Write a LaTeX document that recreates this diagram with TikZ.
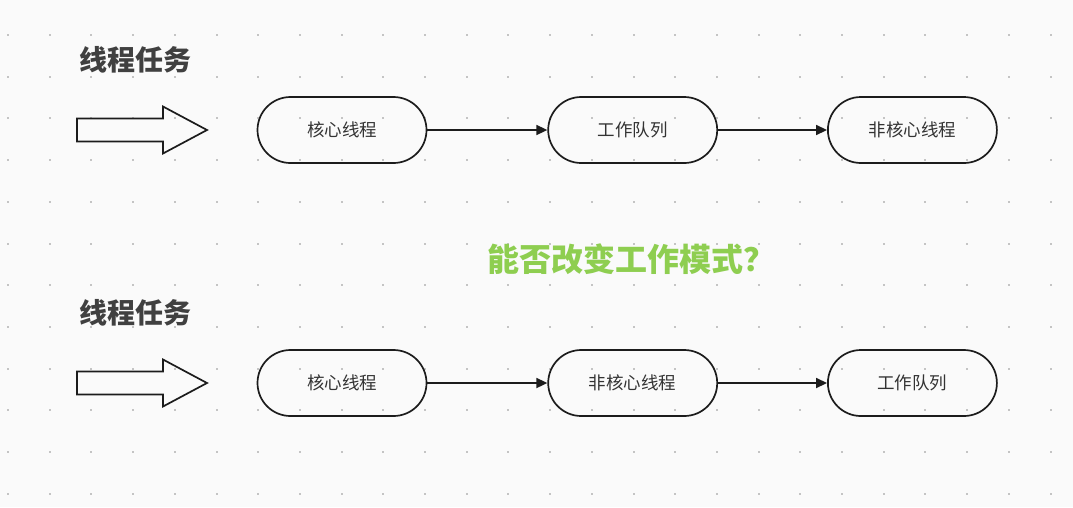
\documentclass[tikz,border=0pt]{standalone}
\usepackage{fontspec}
\setmainfont{Noto Sans CJK SC}
\usetikzlibrary{arrows.meta,positioning}
\definecolor{bg}{RGB}{250,250,250}
\definecolor{dotc}{RGB}{196,196,196}
\definecolor{ink}{RGB}{28,28,28}
\definecolor{txt}{RGB}{51,51,51}
\definecolor{head}{RGB}{64,64,64}
\definecolor{ask}{RGB}{142,206,80}
\newcommand{\bigarrow}[1]{%
  \draw[draw=ink,line width=1.7pt,line join=miter]
    (#1) ++(0,-11.5) -- ++(86,0) -- ++(0,-12) -- ++(44,23.5)
    -- ++(-44,23.5) -- ++(0,-12) -- ++(-86,0) -- cycle;}

\begin{document}
\begin{tikzpicture}[x=1pt,y=-1pt,
  font=\fontsize{17.5}{19}\selectfont,
  box/.style={draw=ink,line width=1.7pt,rounded corners=33pt,
              minimum width=169pt,minimum height=66pt,text=txt},
  title/.style={font=\fontsize{28}{32}\selectfont\bfseries,text=head},
  ar/.style={-{Triangle[length=11pt,width=10pt]},ink,line width=1.7pt}]
% background and dot grid
\fill[bg] (0,0) rectangle (1073,507);
\useasboundingbox (0,0) rectangle (1073,507);
\foreach \i in {0,...,25}
  \foreach \j in {0,...,11}
    \fill[dotc] ({8+41.7*\i-1},{35+41.7*\j-1}) rectangle ++(2,2);

% first row
\node[title] (task1) at (135,60) {线程任务};
\coordinate (in1) at (77,130);
\bigarrow{in1}
\node[box] (core1) at (342,130) {核心线程};
\node[box,right=120pt of core1] (queue1) {工作队列};
\node[box,right=109pt of queue1] (noncore1) {非核心线程};
\draw[ar] (core1) -- (queue1);
\draw[ar] (queue1) -- (noncore1);

\node[font=\fontsize{32}{36}\selectfont\bfseries,text=ask] (ask) at (631,259)
  {能否改变工作模式？};

% second row
\node[title] (task2) at (135,313) {线程任务};
\coordinate (in2) at (77,383);
\bigarrow{in2}
\node[box] (core2) at (342,383) {核心线程};
\node[box,right=120pt of core2] (noncore2) {非核心线程};
\node[box,right=109pt of noncore2] (queue2) {工作队列};
\draw[ar] (core2) -- (noncore2);
\draw[ar] (noncore2) -- (queue2);
\end{tikzpicture}
\end{document}
